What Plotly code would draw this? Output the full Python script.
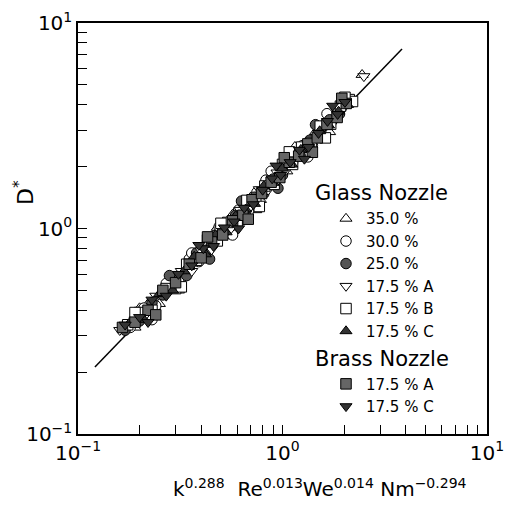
import plotly.graph_objects as go

# ---- data ----
g350_x = [0.17, 0.19, 0.22, 0.25, 0.29, 0.33, 0.37, 0.41, 0.46, 0.52, 0.57, 0.63, 0.70, 0.78, 0.86, 0.95, 1.05, 1.18, 1.30, 1.45, 1.62, 1.80, 2.05, 2.45,
          0.20, 0.31, 0.48, 0.74, 1.15, 1.70]
g350_y = [0.33, 0.33, 0.43, 0.43, 0.58, 0.59, 0.76, 0.77, 0.93, 0.92, 1.17, 1.14, 1.42, 1.38, 1.71, 1.96, 1.90, 2.41, 2.39, 2.95, 3.03, 3.65, 4.06, 5.6,
          0.41, 0.50, 1.01, 1.23, 2.50, 2.95]

g300_x = [0.18, 0.21, 0.24, 0.27, 0.31, 0.35, 0.39, 0.44, 0.49, 0.55, 0.61, 0.68, 0.75, 0.83, 0.92, 1.02, 1.12, 1.25, 1.40, 1.55, 1.75, 1.95, 2.15,
          0.23, 0.36, 0.57, 0.88, 1.33, 1.65]
g300_y = [0.33, 0.41, 0.42, 0.54, 0.56, 0.71, 0.69, 0.87, 1.02, 1.00, 1.23, 1.21, 1.50, 1.72, 1.69, 2.04, 2.09, 2.53, 2.53, 3.10, 3.35, 3.89, 4.22,
          0.36, 0.76, 0.93, 1.90, 2.23, 3.62]

g250_x = [0.17, 0.20, 0.23, 0.26, 0.30, 0.34, 0.38, 0.42, 0.47, 0.53, 0.59, 0.66, 0.73, 0.81, 0.90, 1.00, 1.10, 1.22, 1.36, 1.52, 1.70, 1.90, 2.10,
          0.28, 0.44, 0.63, 0.95, 1.45]
g250_y = [0.32, 0.355, 0.435, 0.475, 0.58, 0.59, 0.76, 0.755, 0.91, 0.98, 1.16, 1.16, 1.42, 1.48, 1.74, 1.82, 2.18, 2.26, 2.69, 2.84, 3.38, 3.61, 4.08,
          0.59, 0.71, 1.36, 1.57, 3.20]

g175a_x = [0.16, 0.19, 0.21, 0.24, 0.28, 0.32, 0.36, 0.40, 0.45, 0.50, 0.56, 0.62, 0.69, 0.77, 0.85, 0.94, 1.04, 1.15, 1.28, 1.42, 1.58, 1.78, 1.98, 2.50]
g175a_y = [0.32, 0.36, 0.37, 0.47, 0.50, 0.62, 0.62, 0.78, 0.79, 1.00, 1.00, 1.23, 1.26, 1.55, 1.54, 1.87, 1.92, 2.30, 2.50, 2.67, 3.20, 3.30, 3.99, 5.5]

g175b_x = [0.175, 0.20, 0.23, 0.27, 0.30, 0.34, 0.38, 0.43, 0.48, 0.54, 0.60, 0.67, 0.74, 0.82, 0.91, 1.00, 1.12, 1.24, 1.38, 1.53, 1.72, 1.92, 2.12, 2.20,
           0.19, 0.32, 0.50, 0.77, 1.08, 1.62, 2.02]
g175b_y = [0.34, 0.39, 0.40, 0.51, 0.51, 0.67, 0.70, 0.88, 0.87, 1.07, 1.08, 1.37, 1.37, 1.61, 1.64, 2.05, 2.05, 2.49, 2.62, 3.15, 3.22, 3.94, 4.24, 4.15,
           0.39, 0.52, 1.06, 1.28, 2.36, 2.76, 4.35]

g175c_x = [0.18, 0.21, 0.25, 0.29, 0.33, 0.37, 0.42, 0.47, 0.53, 0.59, 0.66, 0.73, 0.81, 0.90, 1.00, 1.11, 1.23, 1.37, 1.52, 1.68, 1.88, 2.08]
g175c_y = [0.35, 0.36, 0.48, 0.50, 0.62, 0.73, 0.75, 0.93, 0.96, 1.15, 1.24, 1.32, 1.61, 1.67, 1.96, 2.05, 2.42, 2.52, 2.98, 3.18, 3.71, 4.00]

b175a_x = [0.165, 0.19, 0.22, 0.26, 0.30, 0.35, 0.40, 0.45, 0.51, 0.57, 0.64, 0.71, 0.79, 0.88, 0.97, 1.08, 1.20, 1.33, 1.48, 1.65, 1.85, 2.05,
           0.24, 0.43, 0.68, 1.02, 1.40, 1.95]
b175a_y = [0.33, 0.35, 0.40, 0.50, 0.545, 0.67, 0.72, 0.86, 0.93, 1.09, 1.16, 1.38, 1.48, 1.68, 1.77, 2.10, 2.25, 2.58, 2.76, 3.21, 3.47, 4.06,
           0.38, 0.91, 1.11, 2.21, 2.35, 4.30]

b175c_x = [0.17, 0.20, 0.23, 0.27, 0.31, 0.36, 0.41, 0.46, 0.52, 0.58, 0.65, 0.72, 0.80, 0.89, 0.98, 1.09, 1.21, 1.34, 1.50, 1.66, 1.86, 2.02,
           0.22, 0.39, 0.61, 0.93, 1.28, 1.76]
b175c_y = [0.34, 0.37, 0.45, 0.47, 0.60, 0.66, 0.80, 0.82, 1.01, 1.08, 1.26, 1.31, 1.54, 1.75, 1.82, 2.10, 2.41, 2.49, 2.91, 3.33, 3.60, 4.12,
           0.35, 0.83, 1.00, 2.02, 2.18, 3.95]

fit_x = [0.121, 3.84]
fit_y = [0.212, 7.47]

major_vals = [0.1, 1, 10]
x_tick_text = ["10<sup>\u22121</sup>", "10<sup>0</sup>", "10<sup>1</sup>"]
y_tick_text = ["10<sup>\u22121</sup>", "10<sup>0</sup>", "10<sup>1</sup>"]
minor_vals = [0.2, 0.3, 0.4, 0.5, 0.6, 0.7, 0.8, 0.9, 2, 3, 4, 5, 6, 7, 8, 9]

FONT = "DejaVu Sans"

fig = go.Figure()

fig.add_trace(go.Scatter(x=fit_x, y=fit_y, mode="lines",
                         line=dict(color="black", width=1.5),
                         showlegend=False, hoverinfo="skip"))

series = [
    ("35.0 %", g350_x, g350_y, "triangle-up", "white", "glass", "Glass Nozzle"),
    ("30.0 %", g300_x, g300_y, "circle", "white", "glass", "Glass Nozzle"),
    ("25.0 %", g250_x, g250_y, "circle", "#555555", "glass", "Glass Nozzle"),
    ("17.5 % A", g175a_x, g175a_y, "triangle-down", "white", "glass", "Glass Nozzle"),
    ("17.5 % B", g175b_x, g175b_y, "square", "white", "glass", "Glass Nozzle"),
    ("17.5 % C", g175c_x, g175c_y, "triangle-up", "#333333", "glass", "Glass Nozzle"),
    ("17.5 % A", b175a_x, b175a_y, "square", "#666666", "brass", "Brass Nozzle"),
    ("17.5 % C", b175c_x, b175c_y, "triangle-down", "#333333", "brass", "Brass Nozzle"),
]

for name, xs, ys, sym, fill, grp, gtitle in series:
    fig.add_trace(go.Scatter(
        x=xs, y=ys, mode="markers", name=name,
        legendgroup=grp,
        legendgrouptitle=dict(text=gtitle, font=dict(family=FONT, size=21, color="black")),
        marker=dict(symbol=sym, size=10.5, color=fill,
                    line=dict(color="black", width=1)),
    ))

axis_common = dict(
    type="log", range=[-1, 1],
    showgrid=False, zeroline=False,
    showline=True, linecolor="black", linewidth=1.5, mirror=True,
    ticks="inside", ticklen=9, tickwidth=1.2, tickcolor="black",
    tickvals=major_vals,
    tickfont=dict(family=FONT, size=20, color="black"),
    minor=dict(tickvals=minor_vals, ticks="inside", ticklen=9, tickwidth=1.2,
               tickcolor="black", showgrid=False),
)

fig.update_layout(
    width=511, height=506,
    margin=dict(l=78, r=24, t=23, b=72, autoexpand=False),
    paper_bgcolor="white", plot_bgcolor="white",
    font=dict(family=FONT, color="black"),
    xaxis=dict(axis_common, ticktext=x_tick_text),
    yaxis=dict(axis_common, ticktext=y_tick_text),
    legend=dict(
        xref="paper", yref="paper",
        x=(310 - 78) / 409, y=(434 - 172) / 411, xanchor="left", yanchor="top",
        bgcolor="rgba(0,0,0,0)", borderwidth=0,
        font=dict(family=FONT, size=15, color="black"),
        tracegroupgap=0, indentation=16,
    ),
    annotations=[
        dict(xref="paper", yref="paper", x=(320 - 78) / 409, y=(434 - 488) / 411,
             text="k<sup>0.288</sup>  Re<sup>0.013</sup>We<sup>0.014</sup> Nm<sup>\u22120.294</sup>",
             showarrow=False, font=dict(family=FONT, size=20, color="black"),
             xanchor="center", yanchor="middle"),
        dict(xref="paper", yref="paper", x=(24 - 78) / 409, y=(434 - 193) / 411,
             text="D<sup>*</sup>", textangle=-90,
             showarrow=False, font=dict(family=FONT, size=22, color="black"),
             xanchor="center", yanchor="middle"),
    ],
)

fig.write_html("out.html")
